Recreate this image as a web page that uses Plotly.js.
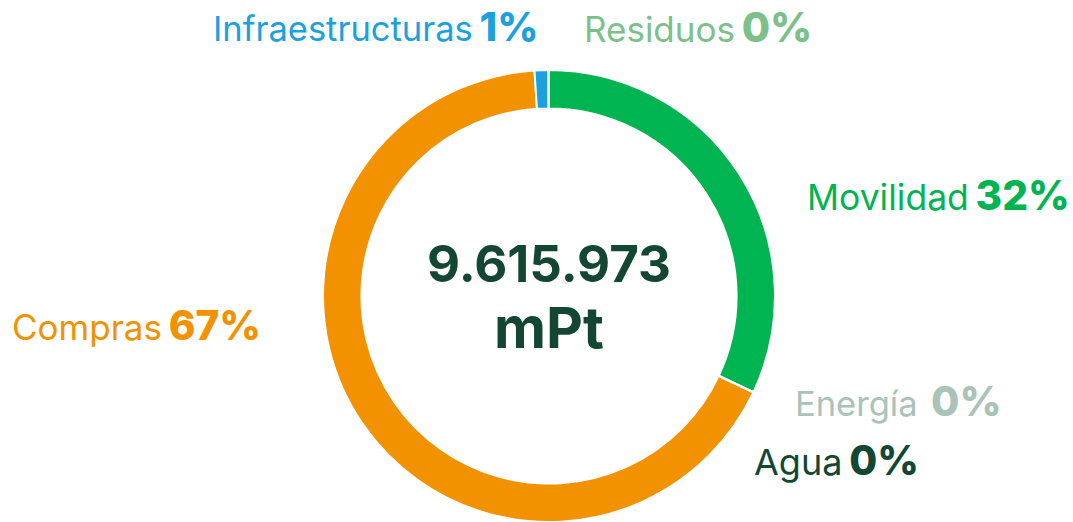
<!DOCTYPE html>
<html>
<head>
<meta charset="utf-8">
<script src="https://cdn.plot.ly/plotly-3.0.1.min.js"></script>
<style>html,body{margin:0;padding:0;background:#fff;}#chart{width:1073px;height:522px;}</style>
</head>
<body>
<div id="chart"></div>
<script>
// Data (clockwise from 12 o'clock)
const categories = ["Movilidad", "Energía", "Agua", "Compras", "Infraestructuras", "Residuos"];
const values = [3076000, 2000, 1500, 6438000, 95000, 3473];
const colors = ["#00B451", "#A9C3B8", "#124734", "#F39200", "#1BA1DE", "#7CC08A"];
const totalLabel = "9.615.973";
const unitLabel = "mPt";

const total = values.reduce((a, b) => a + b, 0);
const pct = values.map(v => Math.round(v / total * 100) + "%");

const W = 1073, H = 522;
const px = x => x / W, py = y => 1 - y / H;

// label placement: [category index, x px, y px, anchor, label size, pct size, gap]
const placements = [
  [4, 540, 27, "right", 34.5, 40, " "],
  [5, 582, 27, "left", 35, 41, " "],
  [0, 805, 195, "left", 35.5, 40.5, " "],
  [3, 10, 325, "left", 35, 40.5, " "],
  [1, 793, 401, "left", 34.5, 41, "&nbsp; "],
  [2, 752, 460, "left", 36, 40.5, " "]
];

const annotations = placements.map(([i, x, y, anchor, s1, s2, gap]) => ({
  x: px(x), y: py(y), xref: "paper", yref: "paper",
  xanchor: anchor, yanchor: "middle", showarrow: false,
  text: categories[i] + '<span style="font-size:24px">' + gap + '</span>' +
        '<span style="font-size:' + s2 + 'px;font-weight:800">' + pct[i] + '</span>',
  font: { family: "Inter, sans-serif", size: s1, color: colors[i] }
}));

annotations.push({
  x: px(549), y: py(297), xref: "paper", yref: "paper",
  xanchor: "center", yanchor: "middle", showarrow: false,
  text: '<b>' + totalLabel + '</b><br><span style="font-size:57px"><b>' + unitLabel + '</b></span>',
  font: { family: "Inter, sans-serif", size: 51, color: "#134734" }
});

const trace = {
  type: "pie",
  labels: categories,
  values: values,
  sort: false,
  direction: "clockwise",
  rotation: 0,
  hole: 0.83,
  marker: { colors: colors, line: { color: "#ffffff", width: 2 } },
  textinfo: "none",
  hoverinfo: "none",
  showlegend: false,
  domain: { x: [px(549 - 226), px(549 + 226)], y: [0, py(70)] }
};

Plotly.newPlot("chart", [trace], {
  width: W, height: H,
  margin: { l: 0, r: 0, t: 0, b: 0 },
  paper_bgcolor: "#ffffff",
  showlegend: false,
  annotations: annotations
}, { staticPlot: true });
</script>
</body>
</html>
